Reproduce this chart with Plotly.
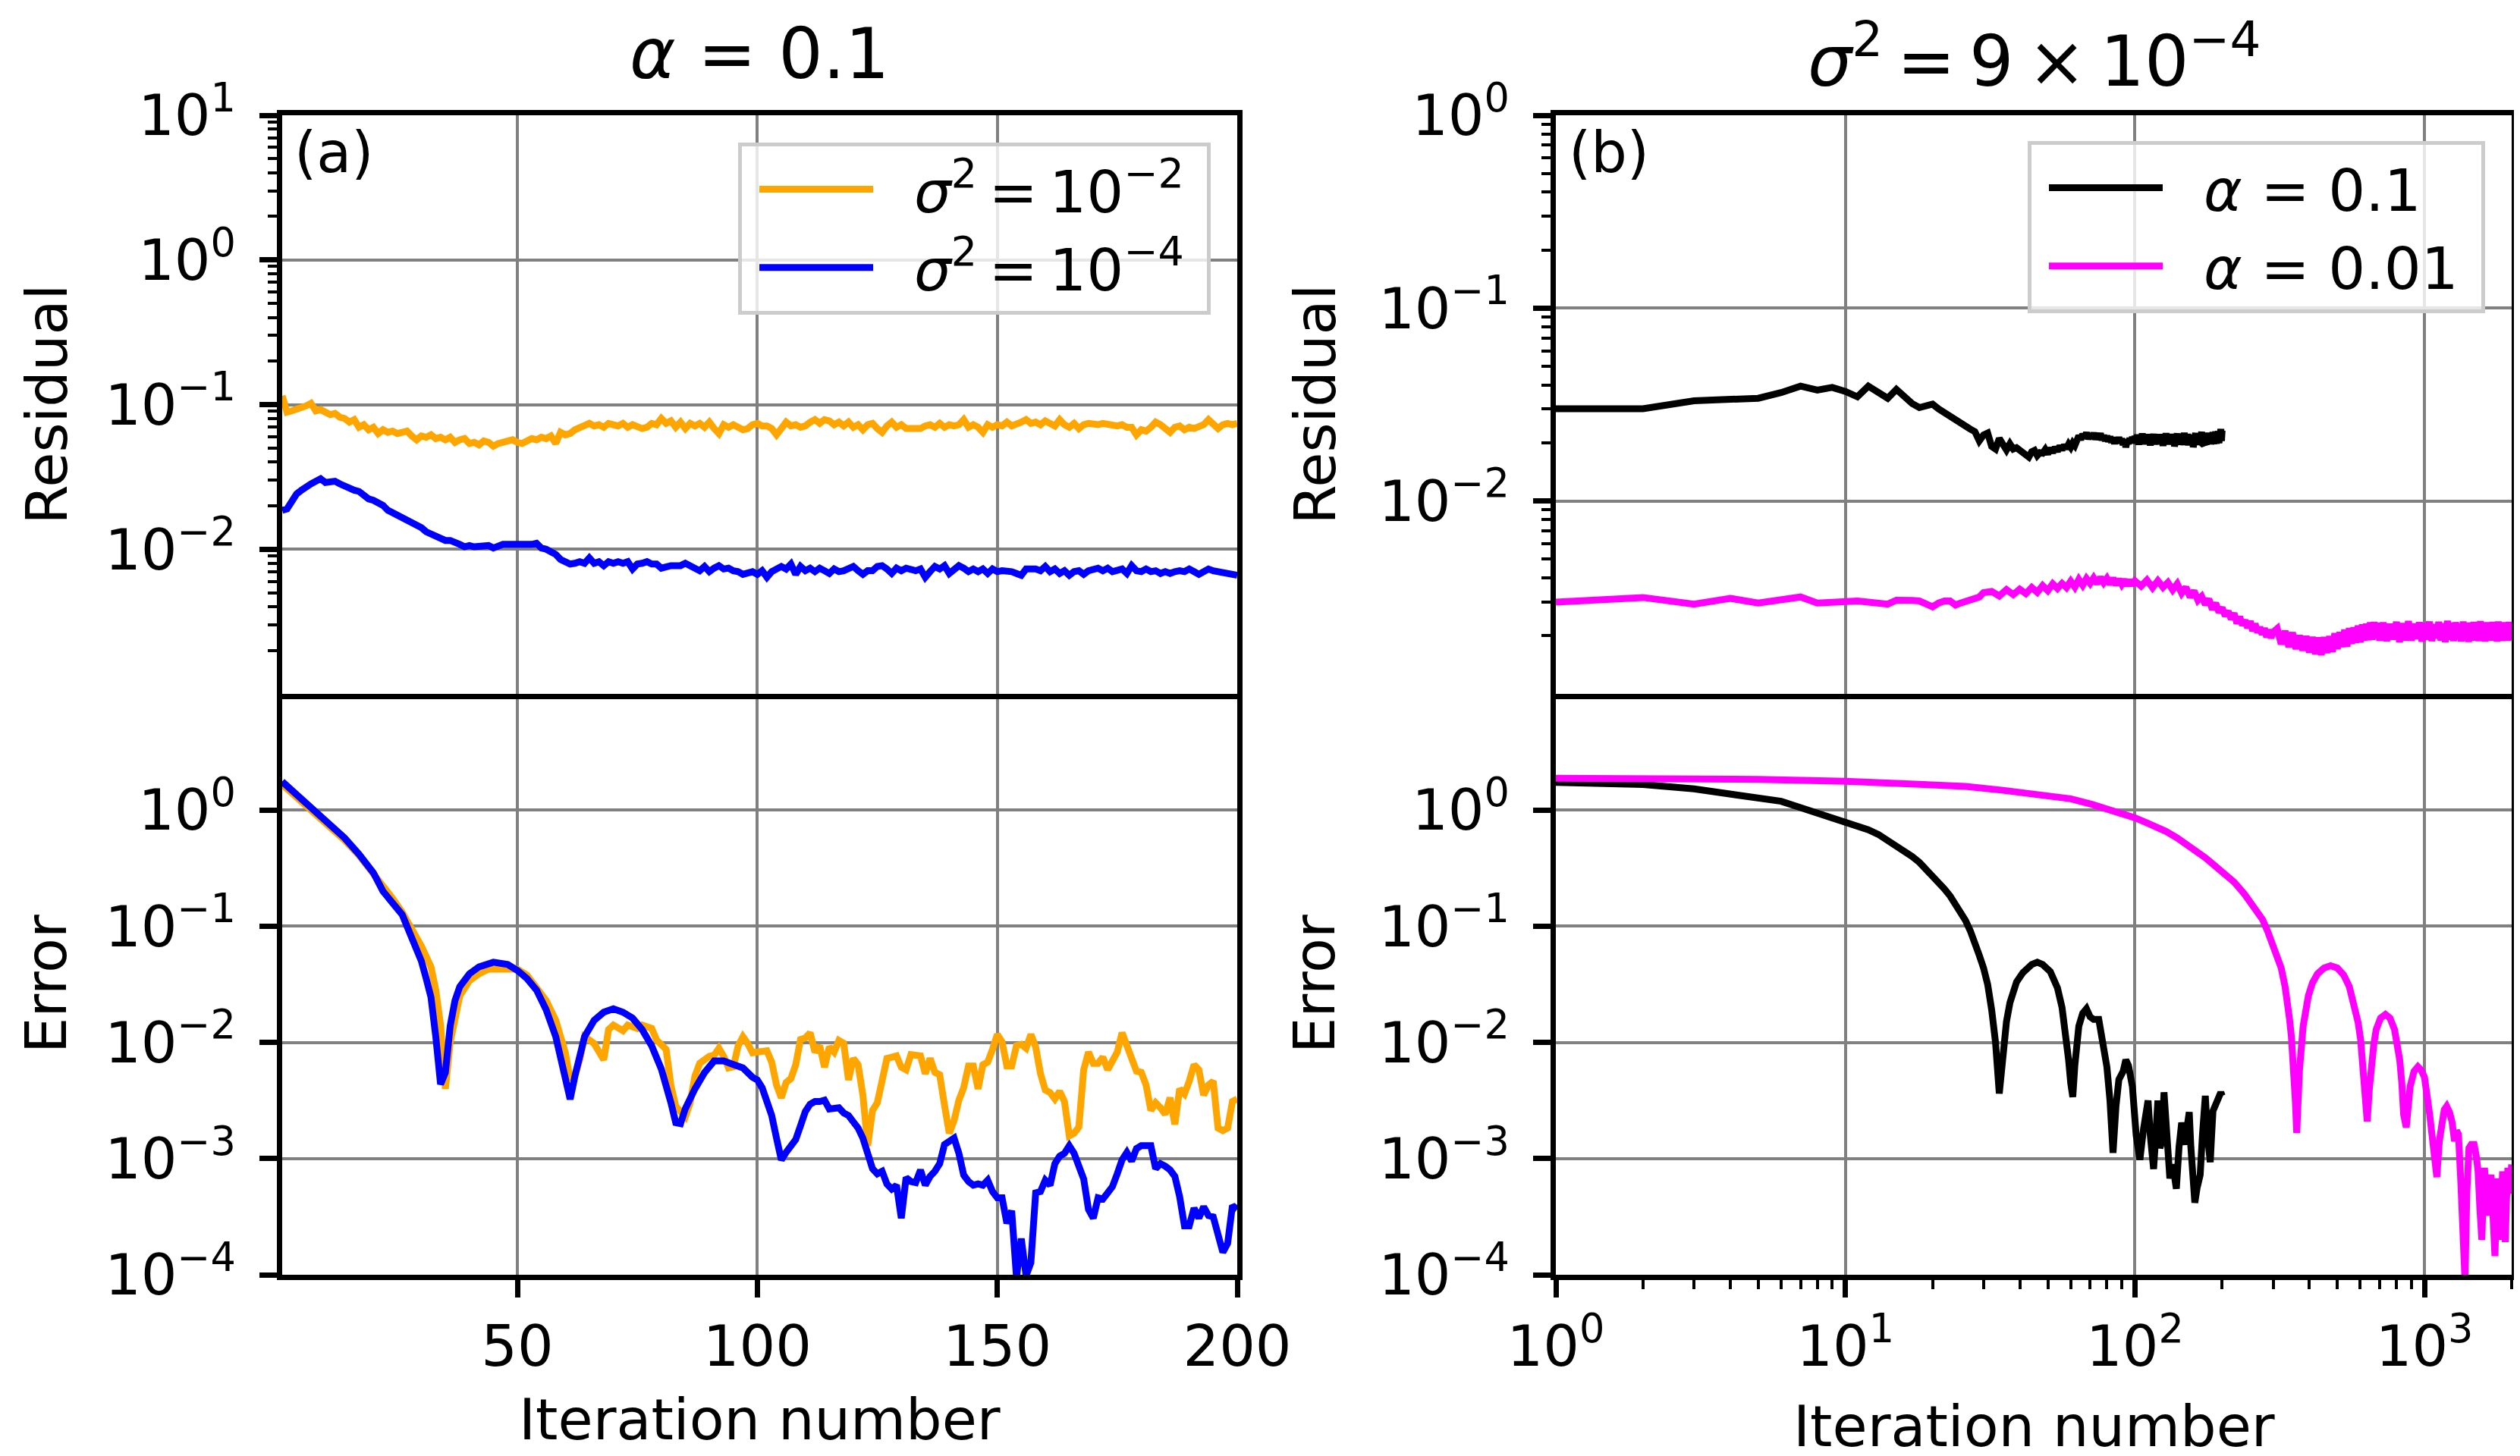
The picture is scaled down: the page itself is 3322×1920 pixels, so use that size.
import plotly.graph_objects as go

# ---------------- data: panel (a), alpha = 0.1 ----------------
iters_a = list(range(1, 201))

res_s2_1e2 = [0.115, 0.0887, 0.0905, 0.0923, 0.094, 0.098, 0.102, 0.0905, 0.0923, 0.0887,
    0.0852, 0.0869, 0.0818, 0.0802, 0.0756, 0.0787, 0.0697, 0.0726, 0.067, 0.0697,
    0.0631, 0.067, 0.0643, 0.0656, 0.0631, 0.0643, 0.0656, 0.0606, 0.0571, 0.0606,
    0.0594, 0.0618, 0.0582, 0.0594, 0.0571, 0.0594, 0.0548, 0.0571, 0.0582, 0.0538,
    0.0548, 0.0527, 0.056, 0.0548, 0.0516, 0.0538, 0.0548, 0.056, 0.0571, 0.0548,
    0.0538, 0.056, 0.0582, 0.0571, 0.0594, 0.0582, 0.0606, 0.0538, 0.0643, 0.0618,
    0.0631, 0.067, 0.0697, 0.0726, 0.0741, 0.0712, 0.0726, 0.0697, 0.0741, 0.0726,
    0.0712, 0.0741, 0.0697, 0.0726, 0.0697, 0.0683, 0.0697, 0.0741, 0.0726, 0.0802,
    0.0741, 0.0771, 0.0697, 0.0756, 0.0683, 0.0741, 0.0712, 0.0741, 0.0697, 0.0756,
    0.0683, 0.0631, 0.0726, 0.0697, 0.0726, 0.0697, 0.067, 0.0683, 0.0726, 0.0741,
    0.0712, 0.0712, 0.0683, 0.0618, 0.0683, 0.0756, 0.0712, 0.0726, 0.0697, 0.0712,
    0.0756, 0.0787, 0.0741, 0.0787, 0.0771, 0.0726, 0.0756, 0.0712, 0.0756, 0.0697,
    0.0726, 0.067, 0.0726, 0.0741, 0.0683, 0.0643, 0.0712, 0.0756, 0.0697, 0.0726,
    0.0683, 0.0683, 0.0697, 0.0683, 0.0712, 0.0726, 0.0697, 0.0741, 0.0697, 0.0726,
    0.0712, 0.0726, 0.0787, 0.0697, 0.0726, 0.0697, 0.0643, 0.0726, 0.0697, 0.0726,
    0.0712, 0.0756, 0.0712, 0.0726, 0.0756, 0.0787, 0.0741, 0.0756, 0.0726, 0.0771,
    0.0741, 0.0712, 0.0787, 0.0726, 0.0697, 0.0741, 0.0683, 0.0726, 0.0741, 0.0726,
    0.0726, 0.0741, 0.0726, 0.0726, 0.0712, 0.0726, 0.0697, 0.0697, 0.0618, 0.067,
    0.0656, 0.0697, 0.0756, 0.0726, 0.0683, 0.0643, 0.0697, 0.0712, 0.067, 0.0697,
    0.0683, 0.0712, 0.0726, 0.0787, 0.0726, 0.0683, 0.0726, 0.0741, 0.0726, 0.0741]

res_s2_1e4 = [0.0186, 0.0190, 0.0214, 0.0241, 0.0256, 0.0272, 0.0283, 0.0295, 0.0307, 0.0289,
    0.0295, 0.0295, 0.0283, 0.0272, 0.0261, 0.0256, 0.0251, 0.0237, 0.0223, 0.0218,
    0.0210, 0.0201, 0.0186, 0.0179, 0.0168, 0.0162, 0.0158, 0.0152, 0.0146, 0.0141,
    0.0132, 0.0127, 0.0122, 0.0117, 0.0115, 0.0115, 0.0113, 0.0108, 0.0104, 0.0106,
    0.0104, 0.0104, 0.0104, 0.0106, 0.0102, 0.0106, 0.0108, 0.0108, 0.0108, 0.0106,
    0.0108, 0.0108, 0.0108, 0.0110, 0.0102, 0.0100, 0.0096, 0.0092, 0.0085, 0.0082,
    0.0079, 0.0080, 0.0082, 0.0080, 0.0087, 0.0080, 0.0082, 0.0077, 0.0082, 0.0080,
    0.0082, 0.0080, 0.0082, 0.0073, 0.0079, 0.0080, 0.0082, 0.0079, 0.0079, 0.0074,
    0.0076, 0.0077, 0.0077, 0.0077, 0.0080, 0.0077, 0.0074, 0.0071, 0.0076, 0.0070,
    0.0074, 0.0077, 0.0073, 0.0074, 0.0071, 0.0070, 0.0067, 0.0068, 0.0070, 0.0067,
    0.0071, 0.0064, 0.0070, 0.0073, 0.0076, 0.0073, 0.0079, 0.0067, 0.0076, 0.0071,
    0.0074, 0.0070, 0.0074, 0.0071, 0.0068, 0.0073, 0.0070, 0.0071, 0.0073, 0.0076,
    0.0071, 0.0067, 0.0071, 0.0071, 0.0076, 0.0077, 0.0073, 0.0068, 0.0074, 0.0071,
    0.0074, 0.0073, 0.0071, 0.0073, 0.0064, 0.0070, 0.0076, 0.0073, 0.0077, 0.0068,
    0.0073, 0.0077, 0.0074, 0.0070, 0.0073, 0.0070, 0.0073, 0.0068, 0.0073, 0.0070,
    0.0071, 0.0071, 0.0070, 0.0068, 0.0066, 0.0073, 0.0074, 0.0073, 0.0071, 0.0076,
    0.0070, 0.0073, 0.0068, 0.0071, 0.0066, 0.0070, 0.0071, 0.0067, 0.0071, 0.0073,
    0.0074, 0.0071, 0.0074, 0.0070, 0.0071, 0.0073, 0.0068, 0.0077, 0.0071, 0.0070,
    0.0073, 0.0070, 0.0071, 0.0068, 0.0070, 0.0068, 0.0070, 0.0071, 0.0070, 0.0073,
    0.0070, 0.0067, 0.0070, 0.0073, 0.0071, 0.0070, 0.0070, 0.0068, 0.0067, 0.0066]

err_x_s2_1e2 = [1, 4, 7, 10, 14, 17, 20, 22, 24, 26, 28, 30, 32, 33, 34, 35, 36, 37, 38, 40,
    42, 44, 46, 48, 50, 52, 54, 56, 58, 60, 61, 62, 63, 64, 65, 66, 68, 69, 70, 72,
    73, 75, 76, 78, 79, 81, 82, 83, 85, 86, 87, 88, 90, 91, 92, 93, 94, 95, 96, 97,
    98, 99] + list(range(100, 201))
err_s2_1e2 = [1.66, 1.29, 1.02, 0.794, 0.550, 0.407, 0.288, 0.219, 0.174, 0.132,
    0.0955, 0.0676, 0.0447, 0.0282, 0.0141, 0.00398, 0.0100, 0.0158, 0.0251, 0.0339,
    0.0389, 0.0427, 0.0427, 0.0417, 0.0427, 0.0380, 0.0302, 0.0229, 0.0155, 0.00813,
    0.00479, 0.00525, 0.00708, 0.0112, 0.0105, 0.00977, 0.00708, 0.0129, 0.0141, 0.0126,
    0.0141, 0.0132, 0.0141, 0.0132, 0.0105, 0.00871, 0.00427, 0.00282, 0.00229, 0.00302,
    0.00513, 0.00661, 0.00759, 0.00776, 0.00891, 0.00759, 0.00603, 0.00617, 0.00933, 0.0112,
    0.00977, 0.00813,
    0.00826, 0.00847, 0.00847, 0.00676, 0.00430, 0.00334, 0.00452, 0.00488, 0.00643, 0.0106,
    0.0109, 0.0121, 0.00826, 0.00938, 0.00611, 0.00914, 0.00826, 0.0104, 0.00984, 0.00475,
    0.00728, 0.00643, 0.00352, 0.00129, 0.00260, 0.00302, 0.00475, 0.00728, 0.00746, 0.00766,
    0.00611, 0.00581, 0.00785, 0.00766, 0.00766, 0.00538, 0.00728, 0.00552, 0.00526, 0.00288,
    0.00165, 0.00213, 0.00318, 0.00408, 0.00627, 0.00627, 0.00398, 0.00643, 0.00676, 0.00869,
    0.0117, 0.0101, 0.00627, 0.00627, 0.00938, 0.00961, 0.00891, 0.0117, 0.00914, 0.00538,
    0.00389, 0.00370, 0.00326, 0.00379, 0.00310, 0.00157, 0.00165, 0.00187, 0.00581, 0.00826,
    0.00659, 0.00659, 0.00746, 0.00581, 0.00711, 0.00826, 0.0121, 0.00914, 0.00746, 0.00566,
    0.00552, 0.00430, 0.00260, 0.00302, 0.00274, 0.00241, 0.00334, 0.00197, 0.00398, 0.00360,
    0.00463, 0.00643, 0.00581, 0.00352, 0.00430, 0.00463, 0.00183, 0.00174, 0.00183, 0.00310,
    0.00326]

err_x_s2_1e4 = [1, 4, 7, 10, 14, 17, 20, 22, 24, 26, 28, 29, 30, 31, 32, 33, 34, 35, 36, 37,
    38, 40, 42, 45, 48, 50, 52, 54, 56, 58, 60, 61, 62, 64, 66, 68, 70, 72, 74, 76,
    78, 80, 82, 83, 84, 85, 87, 89, 91, 93, 95, 97, 99] + list(range(100, 201))
err_s2_1e4 = [1.76, 1.35, 1.07, 0.832, 0.575, 0.417, 0.288, 0.200, 0.158, 0.126,
    0.0794, 0.0631, 0.0501, 0.0355, 0.0245, 0.0112, 0.00437, 0.00550, 0.0138, 0.0229,
    0.0302, 0.0389, 0.0447, 0.0490, 0.0468, 0.0417, 0.0355, 0.0282, 0.0191, 0.0112,
    0.00513, 0.00324, 0.00513, 0.0112, 0.0155, 0.0182, 0.0195, 0.0182, 0.0162, 0.0129,
    0.00933, 0.00589, 0.00302, 0.00204, 0.00200, 0.00269, 0.00398, 0.00550, 0.00692, 0.00692,
    0.00646, 0.00603, 0.00501,
    0.00475, 0.00408, 0.00318, 0.00235, 0.00150, 0.000975, 0.00113, 0.00129, 0.00146, 0.00192,
    0.00254, 0.00294, 0.00310, 0.00310, 0.00318, 0.00267, 0.00274, 0.00274, 0.00247, 0.00235,
    0.00207, 0.00183, 0.00150, 0.00105, 0.000818, 0.000740, 0.000778, 0.000605, 0.000547, 0.000590,
    0.000307, 0.000686, 0.000635, 0.000621, 0.000798, 0.000590, 0.000703, 0.000778, 0.000904, 0.00132,
    0.00139, 0.00150, 0.00111, 0.000721, 0.000635, 0.000590, 0.000605, 0.000590, 0.000652, 0.000520,
    0.000459, 0.000459, 0.000277, 0.000356, 0.000095, 0.000205, 0.000098, 0.000127, 0.000507, 0.000520,
    0.000652, 0.000590, 0.000904, 0.00105, 0.00111, 0.00129, 0.00111, 0.000859, 0.000668, 0.000366,
    0.000307, 0.000459, 0.000448, 0.000507, 0.000575, 0.000740, 0.000975, 0.00113, 0.000951, 0.00122,
    0.00129, 0.00129, 0.00129, 0.000818, 0.000904, 0.000859, 0.000798, 0.000703, 0.000470, 0.000264,
    0.000264, 0.000375, 0.000307, 0.000385, 0.000323, 0.000315, 0.000221, 0.000156, 0.000186, 0.000394,
    0.000366]

# ---------------- data: panel (b), sigma^2 = 9e-4 ----------------
iters_b01 = list(range(1, 201))
res_a01 = [0.0301, 0.0301, 0.0331, 0.0336, 0.0341, 0.0365, 0.0394, 0.0376, 0.0388, 0.0370,
    0.0347, 0.0394, 0.0365, 0.0341, 0.0379, 0.0345, 0.0320, 0.0305, 0.0312, 0.0318,
    0.0300, 0.0286, 0.0272, 0.0262, 0.0252, 0.0244, 0.0236, 0.0229, 0.0205, 0.0220,
    0.0225, 0.0192, 0.0186, 0.0211, 0.0195, 0.0184, 0.0198, 0.0186, 0.0189, 0.0183,
    0.0177, 0.0172, 0.0169, 0.0180, 0.0183, 0.0172, 0.0178, 0.0177, 0.0185, 0.0175,
    0.0188, 0.0178, 0.0190, 0.0181, 0.0193, 0.0184, 0.0195, 0.0187, 0.0197, 0.0190,
    0.0200, 0.0194, 0.0212, 0.0218, 0.0208, 0.0222, 0.0214, 0.0226, 0.0210, 0.0221,
    0.0213, 0.0225, 0.0209, 0.0220, 0.0212, 0.0224, 0.0207, 0.0219, 0.0205, 0.0218,
    0.0203, 0.0216, 0.0201, 0.0214, 0.0198, 0.0212, 0.0200, 0.0214, 0.0199, 0.0211,
    0.0195, 0.0209, 0.0190, 0.0206, 0.0198, 0.0212, 0.0200, 0.0215, 0.0202, 0.0217,
    0.0199, 0.0221, 0.0196, 0.0218, 0.0201, 0.0224, 0.0197, 0.0215, 0.0203, 0.0222,
    0.0198, 0.0219, 0.0194, 0.0217, 0.0200, 0.0223, 0.0196, 0.0220, 0.0202, 0.0216,
    0.0197, 0.0222, 0.0199, 0.0218, 0.0193, 0.0221, 0.0198, 0.0225, 0.0201, 0.0217,
    0.0196, 0.0220, 0.0200, 0.0223, 0.0197, 0.0219, 0.0192, 0.0218, 0.0199, 0.0224,
    0.0201, 0.0221, 0.0196, 0.0217, 0.0198, 0.0222, 0.0195, 0.0226, 0.0200, 0.0219,
    0.0197, 0.0223, 0.0194, 0.0218, 0.0201, 0.0221, 0.0198, 0.0217, 0.0190, 0.0222,
    0.0199, 0.0225, 0.0196, 0.0219, 0.0202, 0.0223, 0.0197, 0.0220, 0.0200, 0.0228,
    0.0198, 0.0221, 0.0195, 0.0224, 0.0201, 0.0219, 0.0196, 0.0226, 0.0199, 0.0222,
    0.0202, 0.0225, 0.0197, 0.0220, 0.0200, 0.0227, 0.0198, 0.0223, 0.0201, 0.0229,
    0.0199, 0.0224, 0.0203, 0.0230, 0.0200, 0.0226, 0.0204, 0.0236, 0.0205, 0.0232]

iters_b001 = (list(range(1, 31)) + list(range(32, 101, 2)) + list(range(105, 301, 5))
              + list(range(310, 701, 10)) + list(range(720, 2001, 20)))
res_a001 = [0.00299, 0.00316, 0.00292, 0.00313, 0.00296, 0.00308, 0.00318, 0.00296, 0.00299, 0.00303,
    0.00303, 0.00299, 0.00296, 0.00292, 0.00306, 0.00308, 0.00305, 0.00303, 0.00292, 0.00283,
    0.00296, 0.00303, 0.00303, 0.00289, 0.00296, 0.00303, 0.00308, 0.00313, 0.00318, 0.00335,
    0.00340, 0.00322, 0.00347, 0.00327, 0.00349, 0.00331, 0.00356, 0.00336, 0.00364, 0.00343,
    0.00372, 0.00352, 0.00374, 0.00356, 0.00384, 0.00358, 0.00392, 0.00366, 0.00396, 0.00374,
    0.00399, 0.00373, 0.00402, 0.00377, 0.00397, 0.00370, 0.00398, 0.00368, 0.00393, 0.00370,
    0.00391, 0.00364, 0.00389, 0.00366, 0.00385,
    0.00362, 0.00389, 0.00355, 0.00386, 0.00357, 0.00378, 0.00346, 0.00372, 0.00333, 0.00357,
    0.00318, 0.00342, 0.00306, 0.00320, 0.00291, 0.00310, 0.00274, 0.00296, 0.00265, 0.00280,
    0.00254, 0.00268, 0.00244, 0.00262, 0.00232, 0.00251, 0.00227, 0.00241, 0.00220, 0.00238,
    0.00212, 0.00231, 0.00208, 0.00222, 0.00203, 0.00219, 0.00197, 0.00215, 0.00195, 0.00209,
    0.00218, 0.00181, 0.00212, 0.00175, 0.00208, 0.00171, 0.00201, 0.00168, 0.00199, 0.00164,
    0.00197, 0.00161, 0.00196, 0.00159, 0.00197, 0.00163, 0.00199, 0.00165, 0.00206, 0.00171,
    0.00209, 0.00175, 0.00215, 0.00176, 0.00219, 0.00182, 0.00221, 0.00184, 0.00226, 0.00185,
    0.00229, 0.00189, 0.00231, 0.00190, 0.00235, 0.00191, 0.00236, 0.00195, 0.00233, 0.00189,
    0.00234, 0.00188, 0.00230, 0.00192, 0.00236, 0.00186, 0.00232, 0.00190, 0.00238, 0.00189,
    0.00231, 0.00193, 0.00235, 0.00187, 0.00233, 0.00191, 0.00237, 0.00188, 0.00230, 0.00194,
    0.00236, 0.00189, 0.00232, 0.00186, 0.00239, 0.00191, 0.00233, 0.00188, 0.00235, 0.00192,
    0.00231, 0.00187, 0.00237, 0.00190, 0.00234, 0.00186, 0.00232, 0.00193, 0.00236, 0.00189,
    0.00233, 0.00188, 0.00238, 0.00191, 0.00230, 0.00187, 0.00235, 0.00192, 0.00234, 0.00189,
    0.00236, 0.00190, 0.00232, 0.00187, 0.00237, 0.00191, 0.00233, 0.00188, 0.00235, 0.00193,
    0.00231, 0.00189, 0.00236, 0.00190, 0.00234]

err_x_a01 = [1, 2, 3, 4, 5, 6, 7, 8, 9, 10, 11, 12, 13, 14, 15, 16, 17, 18, 19, 20,
    21, 22, 23, 24, 25, 26, 27, 28, 29, 30, 31, 32, 33, 34, 35, 36, 37, 39, 41, 44,
    46, 48, 51, 54, 56, 58, 59, 60, 61, 62, 64, 66, 68, 70, 72, 75, 77, 80, 82, 84,
    86, 88, 91, 93, 95, 98, 101, 104, 107, 111, 113, 116, 118, 120, 122, 124, 126, 129, 132, 135,
    139, 142, 145, 148, 150, 152, 154, 156, 158, 161, 164, 168, 171, 175, 178, 182, 184, 186, 189, 192,
    195, 198, 200]
err_a01 = [1.73, 1.66, 1.52, 1.38, 1.28, 1.19, 1.05, 0.946, 0.869, 0.802,
    0.741, 0.676, 0.617, 0.550, 0.501, 0.447, 0.398, 0.355, 0.309, 0.275,
    0.240, 0.209, 0.182, 0.155, 0.132, 0.112, 0.0912, 0.0741, 0.0562, 0.0437,
    0.0316, 0.0191, 0.0100, 0.00363, 0.00794, 0.0151, 0.0219, 0.0331, 0.0398, 0.0468,
    0.0490, 0.0468, 0.0407, 0.0295, 0.0200, 0.0112, 0.00708, 0.00447, 0.00339, 0.00631,
    0.0138, 0.0178, 0.0195, 0.0166, 0.0158, 0.0158, 0.0112, 0.00617, 0.00316, 0.00112,
    0.00282, 0.00479, 0.00562, 0.00708, 0.00631, 0.00417, 0.00158, 0.000977, 0.00178, 0.00316,
    0.00158, 0.000813, 0.00158, 0.00316, 0.00123, 0.00141, 0.00372, 0.00126, 0.000676, 0.000891,
    0.000550, 0.00126, 0.00204, 0.00158, 0.00132, 0.00200, 0.00251, 0.00126, 0.000631, 0.000417,
    0.000562, 0.000724, 0.00158, 0.00347, 0.00158, 0.000933, 0.00158, 0.00257, 0.00282, 0.00316,
    0.00339, 0.00372, 0.00347]

err_x_a001 = [1, 2, 3, 5, 10, 15, 20, 26, 35, 50, 60, 71, 85, 100, 110, 120, 128, 140, 158, 175,
    194, 210, 220, 239, 255, 276, 288, 300, 310, 320, 330, 337, 342, 347, 351, 355, 358, 362, 370, 381,
    397, 410, 427, 450, 474, 500, 526, 550, 571, 590, 602, 621, 634, 645, 654, 668, 681, 705, 733, 760,
    788, 821, 835, 847, 865, 878, 892, 920, 949, 975, 1000, 1042, 1076, 1103, 1125, 1144, 1170, 1193, 1220, 1244,
    1270, 1290, 1310, 1335, 1352, 1380, 1400, 1424, 1450, 1484, 1510, 1531, 1555, 1578, 1595, 1611, 1640, 1663, 1680, 1698,
    1725, 1751, 1770, 1788, 1805, 1825, 1845, 1862, 1880, 1901, 1920, 1941, 1970, 2000]
err_a001 = [1.88, 1.87, 1.86, 1.84, 1.77, 1.72, 1.67, 1.60, 1.48, 1.35,
    1.25, 1.12, 0.98, 0.857, 0.776, 0.708, 0.655, 0.575, 0.469, 0.389,
    0.313, 0.263, 0.240, 0.189, 0.151, 0.114, 0.0891, 0.0692, 0.0562, 0.0437,
    0.0302, 0.0219, 0.0158, 0.0112, 0.00794, 0.00501, 0.00316, 0.00166, 0.00575, 0.0138,
    0.0251, 0.0324, 0.0389, 0.0437, 0.0457, 0.0437, 0.0380, 0.0302, 0.0219, 0.0148,
    0.0105, 0.00468, 0.00209, 0.00398, 0.00617, 0.00955, 0.0129, 0.0162, 0.0174, 0.0162,
    0.0129, 0.00708, 0.00447, 0.00240, 0.00186, 0.00282, 0.00417, 0.00562, 0.00617, 0.00575,
    0.00501, 0.00240, 0.00107, 0.000692, 0.00141, 0.00209, 0.00263, 0.00282, 0.00251, 0.00209,
    0.00141, 0.00174, 0.00162, 0.00063, 0.000282, 0.0000891, 0.0005, 0.00123, 0.00132, 0.00132,
    0.00105, 0.000776, 0.000355, 0.0002, 0.0005, 0.000832, 0.0005, 0.000324, 0.00063, 0.000724,
    0.000316, 0.000145, 0.000398, 0.000676, 0.000355, 0.0002, 0.0005, 0.000776, 0.000398, 0.000191,
    0.000447, 0.000832, 0.0005, 0.000891]

# ---------------- tick labels ----------------
res_a_ticks = [10, 1, 0.1, 0.01]
res_a_labels = ["10<sup>1</sup>", "10<sup>0</sup>", "10<sup>\u22121</sup>", "10<sup>\u22122</sup>"]
res_b_ticks = [1, 0.1, 0.01]
res_b_labels = ["10<sup>0</sup>", "10<sup>\u22121</sup>", "10<sup>\u22122</sup>"]
err_ticks = [1, 0.1, 0.01, 0.001, 0.0001]
err_labels = ["10<sup>0</sup>", "10<sup>\u22121</sup>", "10<sup>\u22122</sup>",
              "10<sup>\u22123</sup>", "10<sup>\u22124</sup>"]
x_a_ticks = [50, 100, 150, 200]
x_b_ticks = [1, 10, 100, 1000]
x_b_labels = ["10<sup>0</sup>", "10<sup>1</sup>", "10<sup>2</sup>", "10<sup>3</sup>"]

# ---------------- styling ----------------
FONT = "DejaVu Sans"
FS = 75
AXW = 7
LW = 9
TS = "\u2009"    # thin space (math spacing)
NB = "\u00a0"

def minor_vals(lo_exp, hi_exp, top=None):
    vals = []
    for e in range(lo_exp, hi_exp):
        for m in range(2, 10):
            v = m * 10 ** e
            if top is None or v <= top:
                vals.append(v)
    return vals

base = dict(showline=True, linecolor="black", linewidth=AXW, ticks="outside",
            ticklen=23, tickwidth=AXW, tickcolor="black", showgrid=True,
            gridcolor="#808080", gridwidth=3.5, zeroline=False, automargin=False,
            tickfont=dict(family=FONT, size=FS, color="black"))
ybase = dict(base, ticklabelstandoff=16)

minor_style = dict(ticks="outside", ticklen=12, tickwidth=4, tickcolor="black", showgrid=False)

XA = [364 / 3322, 1623 / 3322]
XB = [2043 / 3322, 3303 / 3322]
YTOP = [1 - 907 / 1920, 1 - 144 / 1920]
YBOT = [1 - 1673 / 1920, 1 - 907 / 1920]

fig = go.Figure()

lab_s2_1e2 = NB * 2 + "<i>\u03c3</i><sup>2</sup>" + TS + "=" + TS + "10<sup>\u22122</sup>" + NB
lab_s2_1e4 = NB * 2 + "<i>\u03c3</i><sup>2</sup>" + TS + "=" + TS + "10<sup>\u22124</sup>" + NB
lab_a01 = NB * 2 + "<i>\u03b1</i> = 0.1" + NB
lab_a001 = NB * 2 + "<i>\u03b1</i> = 0.01" + NB

# panel (a) residual (top-left): xaxis2 / yaxis2
fig.add_trace(go.Scatter(x=iters_a, y=res_s2_1e2, mode="lines",
                         line=dict(color="#FFA500", width=LW), name=lab_s2_1e2,
                         xaxis="x2", yaxis="y2", legend="legend"))
fig.add_trace(go.Scatter(x=iters_a, y=res_s2_1e4, mode="lines",
                         line=dict(color="#0000FF", width=LW), name=lab_s2_1e4,
                         xaxis="x2", yaxis="y2", legend="legend"))
# panel (a) error (bottom-left): xaxis / yaxis
fig.add_trace(go.Scatter(x=err_x_s2_1e2, y=err_s2_1e2, mode="lines",
                         line=dict(color="#FFA500", width=LW), showlegend=False,
                         xaxis="x", yaxis="y"))
fig.add_trace(go.Scatter(x=err_x_s2_1e4, y=err_s2_1e4, mode="lines",
                         line=dict(color="#0000FF", width=LW), showlegend=False,
                         xaxis="x", yaxis="y"))
# panel (b) residual (top-right): xaxis4 / yaxis4
fig.add_trace(go.Scatter(x=iters_b01, y=res_a01, mode="lines",
                         line=dict(color="black", width=LW), name=lab_a01,
                         xaxis="x4", yaxis="y4", legend="legend2"))
fig.add_trace(go.Scatter(x=iters_b001, y=res_a001, mode="lines",
                         line=dict(color="#FF00FF", width=LW), name=lab_a001,
                         xaxis="x4", yaxis="y4", legend="legend2"))
# panel (b) error (bottom-right): xaxis3 / yaxis3
fig.add_trace(go.Scatter(x=err_x_a01, y=err_a01, mode="lines",
                         line=dict(color="black", width=LW), showlegend=False,
                         xaxis="x3", yaxis="y3"))
fig.add_trace(go.Scatter(x=err_x_a001, y=err_a001, mode="lines",
                         line=dict(color="#FF00FF", width=LW), showlegend=False,
                         xaxis="x3", yaxis="y3"))

legend_style = dict(xanchor="right", yanchor="top",
                    bgcolor="rgba(255,255,255,0.8)", bordercolor="#cccccc", borderwidth=5,
                    font=dict(family=FONT, size=77, color="black"),
                    itemwidth=150, indentation=18, tracegroupgap=0)

fig.update_layout(
    width=3322, height=1920,
    margin=dict(l=0, r=0, t=0, b=0, pad=0, autoexpand=False),
    paper_bgcolor="white", plot_bgcolor="white",
    font=dict(family=FONT, size=FS, color="black"),
    legend=dict(x=1588 / 3322, y=1 - 180 / 1920, **legend_style),
    legend2=dict(x=3268 / 3322, y=1 - 178 / 1920, **legend_style),
    # bottom-left
    xaxis=dict(base, domain=XA, anchor="y", range=[1, 200], tickvals=x_a_ticks, mirror=False),
    yaxis=dict(ybase, domain=YBOT, anchor="x", type="log", range=[-4, 1],
               tickvals=err_ticks, ticktext=err_labels, mirror=True),
    # top-left
    xaxis2=dict(base, domain=XA, anchor="y2", matches="x", range=[1, 200],
                tickvals=x_a_ticks, showticklabels=False, ticks="", mirror=True),
    yaxis2=dict(ybase, domain=YTOP, anchor="x2", type="log", range=[-3, 1],
                tickvals=res_a_ticks, ticktext=res_a_labels, mirror=True,
                minor=dict(minor_style, tickvals=minor_vals(-3, 1))),
    # bottom-right
    xaxis3=dict(base, domain=XB, anchor="y3", type="log", range=[0, 3.30103],
                tickvals=x_b_ticks, ticktext=x_b_labels, mirror=False,
                minor=dict(minor_style, tickvals=minor_vals(0, 4, top=2000))),
    yaxis3=dict(ybase, domain=YBOT, anchor="x3", type="log", range=[-4, 1],
                tickvals=err_ticks, ticktext=err_labels, mirror=True),
    # top-right
    xaxis4=dict(base, domain=XB, anchor="y4", type="log", matches="x3", range=[0, 3.30103],
                tickvals=x_b_ticks, showticklabels=False, ticks="", mirror=True),
    yaxis4=dict(ybase, domain=YTOP, anchor="x4", type="log", range=[-3, 0],
                tickvals=res_b_ticks, ticktext=res_b_labels, mirror=True,
                minor=dict(minor_style, tickvals=minor_vals(-3, 0))),
)

def note(text, x, y, angle=0, xanchor="center", yanchor="middle", size=FS):
    fig.add_annotation(text=text, x=x, y=y, xref="paper", yref="paper",
                       showarrow=False, textangle=angle, xanchor=xanchor, yanchor=yanchor,
                       font=dict(family=FONT, size=size, color="black"))

# titles
note("<i>\u03b1</i> = 0.1", (XA[0] + XA[1]) / 2, 1 - 64 / 1920, size=92)
note("<i>\u03c3</i><sup>2</sup>" + TS + "=" + TS + "9" + TS + "\u00d7" + TS + "10<sup>\u22124</sup>",
     (XB[0] + XB[1]) / 2, 1 - 66 / 1920, size=92)
# axis titles
note("Residual", 53 / 3322, (YTOP[0] + YTOP[1]) / 2, angle=-90)
note("Error", 53 / 3322, (YBOT[0] + YBOT[1]) / 2, angle=-90)
note("Residual", 1725 / 3322, (YTOP[0] + YTOP[1]) / 2, angle=-90)
note("Error", 1725 / 3322, (YBOT[0] + YBOT[1]) / 2, angle=-90)
note("Iteration number", (XA[0] + XA[1]) / 2, 1 - 1864 / 1920)
note("Iteration number", (XB[0] + XB[1]) / 2, 1 - 1873 / 1920)
# panel tags
note("(a)", 378 / 3322, 1 - 193 / 1920, xanchor="left")
note("(b)", 2058 / 3322, 1 - 193 / 1920, xanchor="left")

fig.write_html("out.html")
